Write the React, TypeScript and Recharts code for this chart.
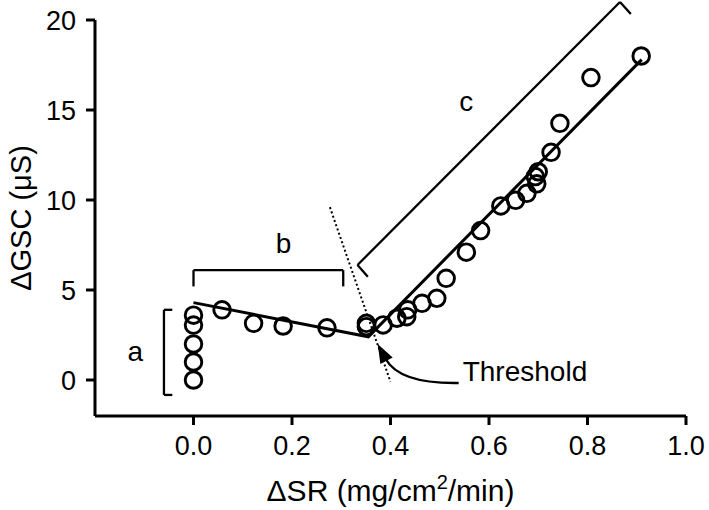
import {
  ComposedChart,
  Scatter,
  Line,
  XAxis,
  YAxis,
  ReferenceLine,
  ReferenceDot,
} from 'recharts';

// Open circles: change in sweat rate vs change in skin conductance
const srValues = [
  0, 0, 0, 0, 0, 0.058, 0.122, 0.182, 0.271, 0.351, 0.351, 0.385, 0.413, 0.433, 0.435,
  0.464, 0.494, 0.513, 0.554, 0.583, 0.624, 0.654, 0.677, 0.697, 0.694, 0.7, 0.726, 0.744,
  0.807, 0.909,
];
const gscValues = [
  0, 1, 2, 3.05, 3.6, 3.9, 3.15, 3.0, 2.9, 3.15, 2.96, 3.06, 3.43, 3.52, 3.9, 4.26, 4.54,
  5.65, 7.1, 8.3, 9.67, 9.98, 10.37, 10.9, 11.3, 11.57, 12.65, 14.26, 16.8, 18.0,
];

// Two-segment fit with the breakpoint at the threshold
const fitX = [0, 0.355, 0.91];
const fitY = [4.3, 2.4, 17.8];

// Dotted threshold marker
const thresholdX = [0.277, 0.4];
const thresholdY = [9.6, -0.1];

const xTicks = [0, 0.2, 0.4, 0.6, 0.8, 1.0];
const yTicks = [0, 5, 10, 15, 20];

// Bracket outlines (data units)
const bracketA = [
  { x: -0.043, y: 3.9 },
  { x: -0.06, y: 3.9 },
  { x: -0.06, y: -0.83 },
  { x: -0.043, y: -0.83 },
];
const bracketB = [
  { x: 0, y: 5.2 },
  { x: 0, y: 6.1 },
  { x: 0.304, y: 6.1 },
  { x: 0.304, y: 5.2 },
];
const bracketC = [
  { x: 0.354, y: 5.74 },
  { x: 0.333, y: 6.39 },
  { x: 0.866, y: 21.0 },
  { x: 0.888, y: 20.33 },
];

const textLabels = [
  { x: -0.118, y: 1.56, text: 'a' },
  { x: 0.183, y: 7.6, text: 'b' },
  { x: 0.554, y: 15.45, text: 'c' },
  { x: 0.673, y: 0.5, text: 'Threshold' },
];

const arrowTip = { x: 0.374, y: 2.0 };

const FONT = '"Liberation Sans", Arial, Helvetica, sans-serif';
const INK = '#000';

const points = srValues.map((x, i) => ({ x, y: gscValues[i] }));
const fitData = fitX.map((x, i) => ({ x, y: fitY[i] }));
const thresholdData = thresholdX.map((x, i) => ({ x, y: thresholdY[i] }));

const toSegments = (pts: { x: number; y: number }[]) =>
  pts.slice(1).map((p, i) => [pts[i], p]);

const OpenCircle = (props: any) => {
  const { cx, cy } = props;
  return <circle cx={cx} cy={cy} r={8.3} fill="none" stroke={INK} strokeWidth={2.9} />;
};

const XTitle = (props: any) => {
  const { viewBox } = props;
  const cx = viewBox.x + viewBox.width / 2;
  return (
    <text x={cx} y={501} textAnchor="middle" fontSize={30} fontFamily={FONT} fill={INK}>
      ΔSR (mg/cm
      <tspan dy={-12} fontSize={20}>
        2
      </tspan>
      <tspan dy={12}>/min)</tspan>
    </text>
  );
};

const YTitle = (props: any) => {
  const { viewBox } = props;
  const cy = viewBox.y + viewBox.height / 2;
  return (
    <text
      x={21}
      y={cy}
      transform={`rotate(-90, 21, ${cy})`}
      textAnchor="middle"
      dominantBaseline="central"
      fontSize={29}
      fontFamily={FONT}
      fill={INK}
    >
      ΔGSC (μS)
    </text>
  );
};

export default function App() {
  return (
    <div style={{ position: 'absolute', left: 0, top: 0, background: '#fff', fontFamily: FONT }}>
      <ComposedChart width={709} height={510} margin={{ top: 20, right: 23, bottom: 0, left: 0 }}>
        <XAxis
          type="number"
          dataKey="x"
          domain={[-0.2, 1.0]}
          allowDataOverflow
          ticks={xTicks}
          tickFormatter={(v: number) => v.toFixed(1)}
          height={94}
          tickSize={9}
          tickMargin={11}
          axisLine={{ stroke: INK, strokeWidth: 3 }}
          tickLine={{ stroke: INK, strokeWidth: 3 }}
          tick={{ fill: INK, fontSize: 27, fontFamily: FONT }}
          label={XTitle}
        />
        <YAxis
          type="number"
          dataKey="y"
          domain={[-2, 20]}
          allowDataOverflow
          ticks={yTicks}
          width={95}
          tickSize={9}
          tickMargin={10}
          axisLine={{ stroke: INK, strokeWidth: 3 }}
          tickLine={{ stroke: INK, strokeWidth: 3 }}
          tick={{ fill: INK, fontSize: 27, fontFamily: FONT }}
          label={YTitle}
        />

        <Line
          data={thresholdData}
          dataKey="y"
          type="linear"
          stroke={INK}
          strokeWidth={2}
          strokeDasharray="2 2.5"
          dot={false}
          activeDot={false}
          isAnimationActive={false}
        />
        <Line
          data={fitData}
          dataKey="y"
          type="linear"
          stroke={INK}
          strokeWidth={3}
          dot={false}
          activeDot={false}
          isAnimationActive={false}
        />
        <Scatter data={points} dataKey="y" shape={OpenCircle} isAnimationActive={false} />

        {[bracketA, bracketB, bracketC].flatMap((b, bi) =>
          toSegments(b).map((seg, si) => (
            <ReferenceLine
              key={`br-${bi}-${si}`}
              segment={seg}
              stroke={INK}
              strokeWidth={2.3}
              ifOverflow="visible"
            />
          ))
        )}

        {textLabels.map((t) => (
          <ReferenceDot
            key={t.text}
            x={t.x}
            y={t.y}
            r={0}
            ifOverflow="visible"
            shape={(p: any) => (
              <text
                x={p.cx}
                y={p.cy}
                textAnchor="middle"
                dominantBaseline="central"
                fontSize={28}
                fontFamily={FONT}
                fill={INK}
              >
                {t.text}
              </text>
            )}
          />
        ))}

        <ReferenceDot
          x={arrowTip.x}
          y={arrowTip.y}
          r={0}
          ifOverflow="visible"
          shape={(p: any) => {
            const { cx, cy } = p;
            return (
              <g>
                <path
                  d={`M ${cx + 8} ${cy + 15} Q ${cx + 22} ${cy + 40} ${cx + 81} ${cy + 39}`}
                  fill="none"
                  stroke={INK}
                  strokeWidth={2.4}
                />
                <polygon
                  points={`${cx},${cy} ${cx + 2.7},${cy + 20} ${cx + 15},${cy + 13.5}`}
                  fill={INK}
                />
              </g>
            );
          }}
        />
      </ComposedChart>
    </div>
  );
}
